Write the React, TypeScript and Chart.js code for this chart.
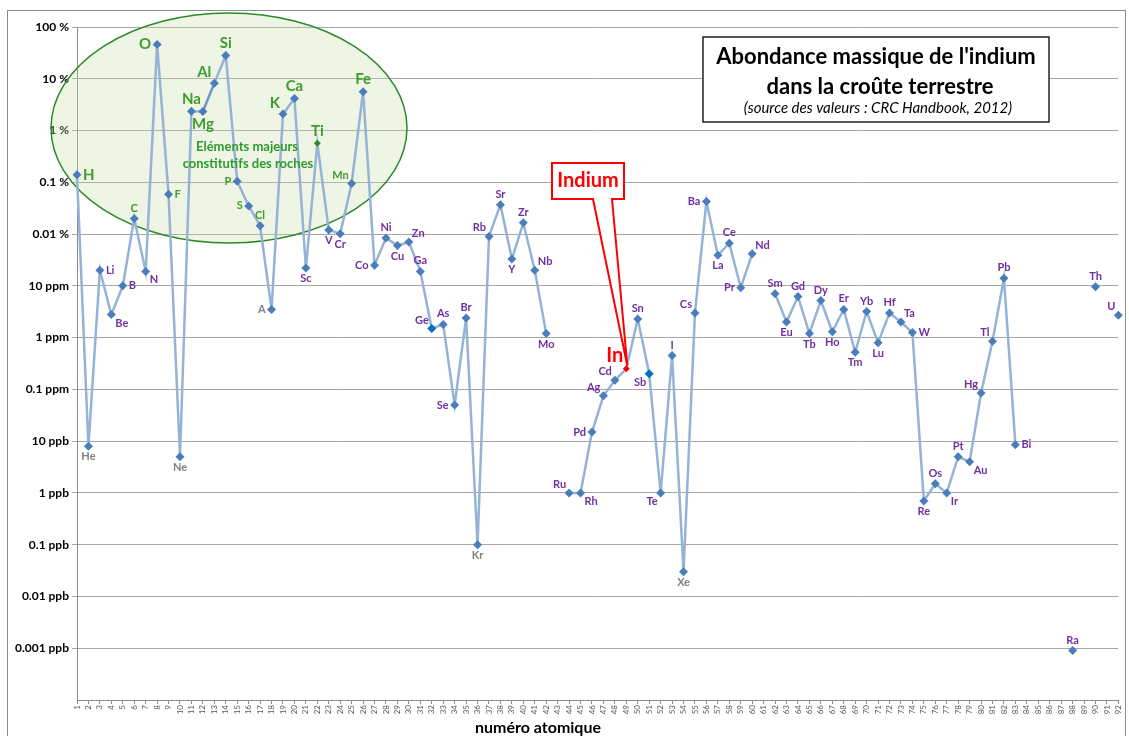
import React, { useEffect, useRef } from 'react';
import { Chart, registerables } from 'chart.js';

Chart.register(...registerables);

// ---------- DATA ----------
const atomicNumbers = [
  '1', '2', '3', '4', '5', '6', '7', '8', '9', '10', '11', '12', '13', '14', '15', '16', '17', '18', '19', '20',
  '21', '22', '23', '24', '25', '26', '27', '28', '29', '30', '31', '32', '33', '34', '35', '36', '37', '38', '39', '40',
  '41', '42', '43', '44', '45', '46', '47', '48', '49', '50', '51', '52', '53', '54', '55', '56', '57', '58', '59', '60',
  '61', '62', '63', '64', '65', '66', '67', '68', '69', '70', '71', '72', '73', '74', '75', '76', '77', '78', '79', '80',
  '81', '82', '83', '84', '85', '86', '87', '88', '89', '90', '91', '92',
];

const symbols = [
  'H', 'He', 'Li', 'Be', 'B', 'C', 'N', 'O', 'F', 'Ne',
  'Na', 'Mg', 'Al', 'Si', 'P', 'S', 'Cl', 'A', 'K', 'Ca',
  'Sc', 'Ti', 'V', 'Cr', 'Mn', 'Fe', 'Co', 'Ni', 'Cu', 'Zn',
  'Ga', 'Ge', 'As', 'Se', 'Br', 'Kr', 'Rb', 'Sr', 'Y', 'Zr',
  'Nb', 'Mo', '', 'Ru', 'Rh', 'Pd', 'Ag', 'Cd', 'In', 'Sn',
  'Sb', 'Te', 'I', 'Xe', 'Cs', 'Ba', 'La', 'Ce', 'Pr', 'Nd',
  '', 'Sm', 'Eu', 'Gd', 'Tb', 'Dy', 'Ho', 'Er', 'Tm', 'Yb',
  'Lu', 'Hf', 'Ta', 'W', 'Re', 'Os', 'Ir', 'Pt', 'Au', 'Hg',
  'Tl', 'Pb', 'Bi', '', '', '', '', 'Ra', '', 'Th',
  '', 'U',
];

// mass fraction in the Earth's crust
const abundance: (number | null)[] = [
  1.4e-3, 8e-9, 2.0e-5, 2.8e-6, 1.0e-5, 2.0e-4, 1.9e-5, 4.61e-1, 5.85e-4, 5e-9,
  2.36e-2, 2.33e-2, 8.23e-2, 2.82e-1, 1.05e-3, 3.5e-4, 1.45e-4, 3.5e-6, 2.09e-2, 4.15e-2,
  2.2e-5, 5.65e-3, 1.2e-4, 1.02e-4, 9.5e-4, 5.63e-2, 2.5e-5, 8.4e-5, 6.0e-5, 7.0e-5,
  1.9e-5, 1.5e-6, 1.8e-6, 5e-8, 2.4e-6, 1e-10, 9.0e-5, 3.7e-4, 3.3e-5, 1.65e-4,
  2.0e-5, 1.2e-6, null, 1e-9, 1e-9, 1.5e-8, 7.5e-8, 1.5e-7, 2.5e-7, 2.3e-6,
  2e-7, 1e-9, 4.5e-7, 3e-11, 3e-6, 4.25e-4, 3.9e-5, 6.65e-5, 9.2e-6, 4.15e-5,
  null, 7.05e-6, 2.0e-6, 6.2e-6, 1.2e-6, 5.2e-6, 1.3e-6, 3.5e-6, 5.2e-7, 3.2e-6,
  8e-7, 3.0e-6, 2.0e-6, 1.25e-6, 7e-10, 1.5e-9, 1e-9, 5e-9, 4e-9, 8.5e-8,
  8.5e-7, 1.4e-5, 8.5e-9, null, null, null, null, 9e-13, null, 9.6e-6,
  null, 2.7e-6,
];

const yTickValues = [1, 1e-1, 1e-2, 1e-3, 1e-4, 1e-5, 1e-6, 1e-7, 1e-8, 1e-9, 1e-10, 1e-11, 1e-12];
const yTickLabels = [
  '100 %', '10 %', '1 %', '0.1 %', '0.01 %', '10 ppm', '1 ppm', '0.1 ppm',
  '10 ppb', '1 ppb', '0.1 ppb', '0.01 ppb', '0.001 ppb',
];

// label placement around each point (t, b, l, r, tl, tr, bl, br)
const labelSide = [
  'r', 'b', 'r', 'br', 'r', 't', 'br', 'l', 'r', 'b',
  't', 'b', 'tl', 't', 'l', 'l', 't', 'l', 'tl', 't',
  'b', 't', 'b', 'b', 'tl', 't', 'l', 't', 'b', 'tr',
  't', 'tl', 't', 'l', 't', 'b', 'tl', 't', 'b', 't',
  'tr', 'b', '', 'tl', 'br', 'l', 'tl', 'tl', 'tl', 't',
  'bl', 'bl', 't', 'b', 'tl', 'l', 'b', 't', 'l', 'tr',
  '', 't', 'b', 't', 'b', 't', 'b', 't', 'b', 't',
  'b', 't', 'tr', 'r', 'b', 't', 'br', 't', 'br', 'tl',
  'tl', 't', 'r', '', '', '', '', 't', '', 't',
  '', 'tl',
];

const majorElements = ['H', 'O', 'Na', 'Mg', 'Al', 'Si', 'K', 'Ca', 'Ti', 'Fe'];
const minorRockElements = ['C', 'F', 'P', 'S', 'Cl', 'Mn'];
const nobleGases = ['He', 'Ne', 'A', 'Kr', 'Xe'];

const FONT = 'Lato, "Open Sans", sans-serif';
const PURPLE = '#7030A0';
const GREEN = '#3E9B2E';
const GREY = '#808080';

function labelStyle(sym: string): { color: string; size: number } {
  if (sym === 'In') return { color: '#FF0000', size: 20 };
  if (majorElements.includes(sym)) return { color: GREEN, size: 15 };
  if (minorRockElements.includes(sym)) return { color: GREEN, size: 11 };
  if (nobleGases.includes(sym)) return { color: GREY, size: 11 };
  return { color: PURPLE, size: 11 };
}

function pointColor(sym: string): string {
  if (sym === 'In') return '#FF0000';
  if (sym === 'Ti') return '#2E8B2E';
  if (sym === 'Ge' || sym === 'Sb') return '#0070C0';
  return '#4A7EBB';
}

const decorPlugin = {
  id: 'decor',
  beforeDraw(chart: any) {
    const ctx = chart.ctx;
    ctx.save();
    ctx.fillStyle = '#FFFFFF';
    ctx.fillRect(0, 0, chart.width, chart.height);
    ctx.strokeStyle = '#8C8C8C';
    ctx.lineWidth = 1;
    ctx.strokeRect(7.5, 10.5, 1118, 740);
    ctx.restore();
  },
  beforeDatasetsDraw(chart: any) {
    const ctx = chart.ctx;
    ctx.save();
    ctx.beginPath();
    ctx.ellipse(229, 128, 178, 115, 0, 0, Math.PI * 2);
    ctx.fillStyle = 'rgba(200,222,170,0.3)';
    ctx.fill();
    ctx.strokeStyle = '#2A8A2A';
    ctx.lineWidth = 1.5;
    ctx.stroke();
    ctx.restore();
  },
  afterDatasetsDraw(chart: any) {
    const ctx = chart.ctx;
    const meta = chart.getDatasetMeta(0);
    ctx.save();
    // ellipse caption
    ctx.fillStyle = '#2E9A2E';
    ctx.font = `bold 13px ${FONT}`;
    ctx.textAlign = 'center';
    ctx.textBaseline = 'middle';
    ctx.fillText('Eléments majeurs', 247, 147);
    ctx.fillText('constitutifs des roches', 248, 164);

    // element labels
    abundance.forEach((v, i) => {
      if (v === null) return;
      const sym = symbols[i];
      const side = labelSide[i];
      const el = meta.data[i];
      if (!el || !sym) return;
      const { x, y } = el;
      const st = labelStyle(sym);
      ctx.fillStyle = st.color;
      ctx.font = `bold ${st.size}px ${FONT}`;
      let tx = x, ty = y;
      switch (side) {
        case 't': ctx.textAlign = 'center'; ctx.textBaseline = 'bottom'; ty = y - 5; break;
        case 'b': ctx.textAlign = 'center'; ctx.textBaseline = 'top'; ty = y + 5; break;
        case 'l': ctx.textAlign = 'right'; ctx.textBaseline = 'middle'; tx = x - 6; break;
        case 'r': ctx.textAlign = 'left'; ctx.textBaseline = 'middle'; tx = x + 6; break;
        case 'tl': ctx.textAlign = 'right'; ctx.textBaseline = 'bottom'; tx = x - 3; ty = y - 3; break;
        case 'tr': ctx.textAlign = 'left'; ctx.textBaseline = 'bottom'; tx = x + 3; ty = y - 3; break;
        case 'bl': ctx.textAlign = 'right'; ctx.textBaseline = 'top'; tx = x - 3; ty = y + 3; break;
        case 'br': ctx.textAlign = 'left'; ctx.textBaseline = 'top'; tx = x + 4; ty = y + 3; break;
        default: return;
      }
      ctx.fillText(sym, tx, ty);
    });
    ctx.restore();
  },
  afterDraw(chart: any) {
    const ctx = chart.ctx;
    const meta = chart.getDatasetMeta(0);
    ctx.save();

    // title box
    ctx.fillStyle = '#FFFFFF';
    ctx.fillRect(703, 37, 346, 85);
    ctx.strokeStyle = '#000000';
    ctx.lineWidth = 1.3;
    ctx.strokeRect(703, 37, 346, 85);
    ctx.fillStyle = '#000000';
    ctx.textAlign = 'center';
    ctx.textBaseline = 'middle';
    ctx.font = `bold 22px ${FONT}`;
    ctx.fillText("Abondance massique de l'indium", 876, 57);
    ctx.fillText('dans la croûte terrestre', 880, 87);
    ctx.font = `italic 15px ${FONT}`;
    ctx.fillText('(source des valeurs : CRC Handbook, 2012)', 878, 108);

    // Indium callout
    const inIdx = symbols.indexOf('In');
    const p = meta.data[inIdx];
    const tipX = p.x + 1;
    const tipY = p.y - 3;
    ctx.beginPath();
    ctx.moveTo(552, 163);
    ctx.lineTo(624, 163);
    ctx.lineTo(624, 199);
    ctx.lineTo(612, 199);
    ctx.lineTo(tipX, tipY);
    ctx.lineTo(593, 199);
    ctx.lineTo(552, 199);
    ctx.closePath();
    ctx.fillStyle = '#FFFFFF';
    ctx.fill();
    ctx.strokeStyle = '#FF0000';
    ctx.lineWidth = 2;
    ctx.stroke();
    ctx.fillStyle = '#FF0000';
    ctx.font = `bold 20px ${FONT}`;
    ctx.fillText('Indium', 588, 181);

    // x axis title
    ctx.fillStyle = '#000000';
    ctx.font = `bold 16px ${FONT}`;
    ctx.fillText('numéro atomique', 538, 728);
    ctx.restore();
  },
};

export default function App() {
  const ref = useRef<HTMLCanvasElement>(null);
  useEffect(() => {
    const canvas = ref.current;
    if (!canvas) return;
    const chart = new Chart(canvas, {
      type: 'line',
      data: {
        labels: atomicNumbers,
        datasets: [
          {
            data: abundance as any,
            borderColor: '#95B3D7',
            borderWidth: 2.5,
            tension: 0,
            spanGaps: false,
            pointStyle: 'rectRot',
            pointRadius: (c: any) => {
              const s = symbols[c.dataIndex];
              return s === 'In' || s === 'Ti' ? 3.5 : 4.5;
            },
            pointBackgroundColor: (c: any) => pointColor(symbols[c.dataIndex]),
            pointBorderColor: (c: any) => pointColor(symbols[c.dataIndex]),
            pointBorderWidth: 0,
            segment: {
              borderColor: (c: any) => (c.p0DataIndex === 11 ? '#6F95C8' : undefined),
            },
          } as any,
        ],
      },
      options: {
        responsive: false,
        animation: false,
        devicePixelRatio: 1,
        layout: { padding: { left: 0, top: 27, right: 10, bottom: 0 } },
        plugins: {
          legend: { display: false },
          tooltip: { enabled: false },
          title: { display: false },
        },
        scales: {
          x: {
            type: 'category',
            offset: false,
            grid: { display: true, drawOnChartArea: false, drawTicks: true, tickLength: 4, color: '#8C8C8C' },
            border: { display: true, color: '#8C8C8C' },
            ticks: {
              autoSkip: false,
              maxRotation: 90,
              minRotation: 90,
              padding: 1,
              color: '#595959',
              font: { size: 8, family: FONT },
            },
            afterFit: (s: any) => {
              s.height = 36;
            },
          },
          y: {
            type: 'logarithmic',
            min: 1e-13,
            max: 1,
            afterBuildTicks: (s: any) => {
              s.ticks = yTickValues.map((v) => ({ value: v }));
            },
            grid: { color: '#A6A6A6', tickLength: 5 },
            border: { display: true, color: '#8C8C8C' },
            ticks: {
              autoSkip: false,
              padding: 3,
              color: '#000000',
              font: { size: 12, weight: 'bold', family: FONT },
              callback: (v: any) => {
                const k = Math.round(-Math.log10(Number(v)));
                return yTickLabels[k] ?? '';
              },
            },
            afterFit: (s: any) => {
              s.width = 77;
            },
          },
        },
      } as any,
      plugins: [decorPlugin],
    });
    return () => chart.destroy();
  }, []);
  return (
    <div style={{ position: 'absolute', left: 0, top: 0, width: 1129, height: 736 }}>
      <canvas ref={ref} width={1129} height={736} style={{ display: 'block' }} />
    </div>
  );
}
